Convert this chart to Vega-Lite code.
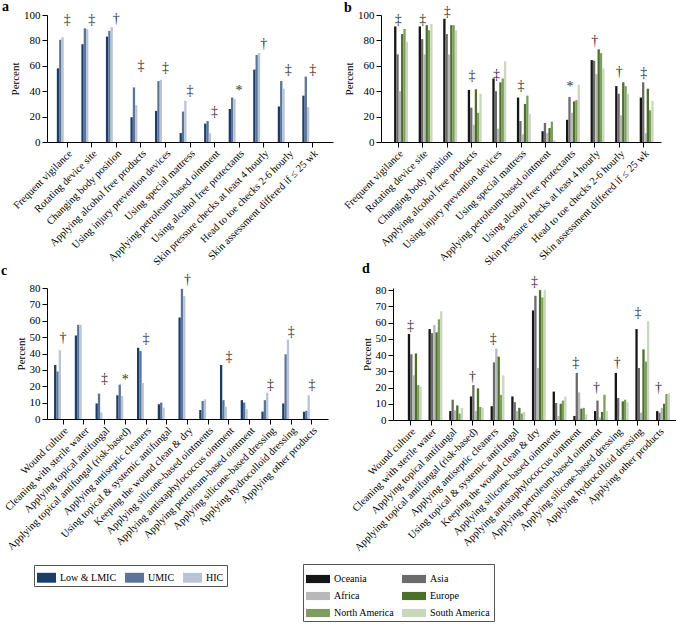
{
"$schema":"https://vega.github.io/schema/vega-lite/v6.json",
"padding":{"left":1,"top":0,"right":0,"bottom":0},
"config":{
 "font":"Liberation Serif, DejaVu Serif, serif",
 "view":{"stroke":null},
 "axis":{"labelFont":"Liberation Serif, DejaVu Serif, serif","titleFont":"Liberation Serif, DejaVu Serif, serif","labelColor":"#000","titleColor":"#000","domainColor":"#000","tickColor":"#000","grid":false,"titleFontWeight":"normal","tickSize":5,"labelFontSize":11,"titleFontSize":11,"labelOverlap":false},
 "axisX":{"labelFontSize":10.5,"labelAngle":-45,"title":null,"labelLimit":300,"labelOverlap":false,"labelPadding":1},
 "axisY":{"labelPadding":2,"titlePadding":3,"labelOverlap":false},
 "text":{"font":"Liberation Serif, DejaVu Serif, serif"},
 "title":{"anchor":"start","frame":"group","font":"Liberation Serif, DejaVu Serif, serif","fontSize":14,"fontWeight":"bold","color":"#000"},
 "legend":{"labelFont":"Liberation Serif, DejaVu Serif, serif","labelFontSize":10,"labelColor":"#000","strokeColor":"#555","padding":3,"symbolStrokeWidth":0,"symbolOpacity":1,"labelOffset":4}
},
"datasets":{
"a":[
{"k":"Frequent vigilance","g":"Low & LMIC","v":58},{"k":"Frequent vigilance","g":"UMIC","v":80.5},{"k":"Frequent vigilance","g":"HIC","v":82.5},
{"k":"Rotating device site","g":"Low & LMIC","v":77},{"k":"Rotating device site","g":"UMIC","v":89.5},{"k":"Rotating device site","g":"HIC","v":89},
{"k":"Changing body position","g":"Low & LMIC","v":83},{"k":"Changing body position","g":"UMIC","v":87.5},{"k":"Changing body position","g":"HIC","v":90.5},
{"k":"Applying alcohol free products","g":"Low & LMIC","v":19.5},{"k":"Applying alcohol free products","g":"UMIC","v":43},{"k":"Applying alcohol free products","g":"HIC","v":29},
{"k":"Using injury prevention devices","g":"Low & LMIC","v":24.5},{"k":"Using injury prevention devices","g":"UMIC","v":48},{"k":"Using injury prevention devices","g":"HIC","v":49},
{"k":"Using special mattress","g":"Low & LMIC","v":7},{"k":"Using special mattress","g":"UMIC","v":24},{"k":"Using special mattress","g":"HIC","v":32.5},
{"k":"Applying petroleum-based ointment","g":"Low & LMIC","v":14.5},{"k":"Applying petroleum-based ointment","g":"UMIC","v":16.5},{"k":"Applying petroleum-based ointment","g":"HIC","v":7},
{"k":"Using alcohol free protectants","g":"Low & LMIC","v":26},{"k":"Using alcohol free protectants","g":"UMIC","v":35},{"k":"Using alcohol free protectants","g":"HIC","v":34},
{"k":"Skin pressure checks at least 4 hourly","g":"Low & LMIC","v":57},{"k":"Skin pressure checks at least 4 hourly","g":"UMIC","v":68.5},{"k":"Skin pressure checks at least 4 hourly","g":"HIC","v":70},
{"k":"Head to toe checks 2-6 hourly","g":"Low & LMIC","v":28},{"k":"Head to toe checks 2-6 hourly","g":"UMIC","v":48},{"k":"Head to toe checks 2-6 hourly","g":"HIC","v":42},
{"k":"Skin assessment differed if ≤ 25 wk","g":"Low & LMIC","v":36.5},{"k":"Skin assessment differed if ≤ 25 wk","g":"UMIC","v":51.5},{"k":"Skin assessment differed if ≤ 25 wk","g":"HIC","v":27.5}
],
"sa":[
{"k":"Frequent vigilance","s":"‡","v":96},{"k":"Rotating device site","s":"‡","v":96},{"k":"Changing body position","s":"†","v":96.5},
{"k":"Applying alcohol free products","s":"‡","v":59.5},{"k":"Using injury prevention devices","s":"‡","v":58},{"k":"Using special mattress","s":"‡","v":40},
{"k":"Applying petroleum-based ointment","s":"‡","v":23.6},{"k":"Using alcohol free protectants","s":"*","v":40},{"k":"Skin pressure checks at least 4 hourly","s":"†","v":77},
{"k":"Head to toe checks 2-6 hourly","s":"‡","v":57},{"k":"Skin assessment differed if ≤ 25 wk","s":"‡","v":57}
],
"b":[
{"k":"Frequent vigilance","g":"Oceania","v":91},{"k":"Frequent vigilance","g":"Asia","v":69},{"k":"Frequent vigilance","g":"Africa","v":40},{"k":"Frequent vigilance","g":"Europe","v":85},{"k":"Frequent vigilance","g":"North America","v":89},{"k":"Frequent vigilance","g":"South America","v":79},
{"k":"Rotating device site","g":"Oceania","v":91},{"k":"Rotating device site","g":"Asia","v":81},{"k":"Rotating device site","g":"Africa","v":69},{"k":"Rotating device site","g":"Europe","v":92},{"k":"Rotating device site","g":"North America","v":88},{"k":"Rotating device site","g":"South America","v":93},
{"k":"Changing body position","g":"Oceania","v":97},{"k":"Changing body position","g":"Asia","v":85},{"k":"Changing body position","g":"Africa","v":69},{"k":"Changing body position","g":"Europe","v":92},{"k":"Changing body position","g":"North America","v":92},{"k":"Changing body position","g":"South America","v":88},
{"k":"Applying alcohol free products","g":"Oceania","v":41},{"k":"Applying alcohol free products","g":"Asia","v":27},{"k":"Applying alcohol free products","g":"Africa","v":13.5},{"k":"Applying alcohol free products","g":"Europe","v":41.5},{"k":"Applying alcohol free products","g":"North America","v":23},{"k":"Applying alcohol free products","g":"South America","v":38},
{"k":"Using injury prevention devices","g":"Oceania","v":50},{"k":"Using injury prevention devices","g":"Asia","v":40},{"k":"Using injury prevention devices","g":"Africa","v":10.5},{"k":"Using injury prevention devices","g":"Europe","v":47},{"k":"Using injury prevention devices","g":"North America","v":50},{"k":"Using injury prevention devices","g":"South America","v":63.5},
{"k":"Using special mattress","g":"Oceania","v":35},{"k":"Using special mattress","g":"Asia","v":16.5},{"k":"Using special mattress","g":"Africa","v":6},{"k":"Using special mattress","g":"Europe","v":30},{"k":"Using special mattress","g":"North America","v":36.5},{"k":"Using special mattress","g":"South America","v":22},
{"k":"Applying petroleum-based ointment","g":"Oceania","v":8.5},{"k":"Applying petroleum-based ointment","g":"Asia","v":15},{"k":"Applying petroleum-based ointment","g":"Africa","v":7},{"k":"Applying petroleum-based ointment","g":"Europe","v":11},{"k":"Applying petroleum-based ointment","g":"North America","v":16},{"k":"Applying petroleum-based ointment","g":"South America","v":1.5},
{"k":"Using alcohol free protectants","g":"Oceania","v":17.5},{"k":"Using alcohol free protectants","g":"Asia","v":35.5},{"k":"Using alcohol free protectants","g":"Africa","v":23},{"k":"Using alcohol free protectants","g":"Europe","v":32},{"k":"Using alcohol free protectants","g":"North America","v":33},{"k":"Using alcohol free protectants","g":"South America","v":45},
{"k":"Skin pressure checks at least 4 hourly","g":"Oceania","v":64.5},{"k":"Skin pressure checks at least 4 hourly","g":"Asia","v":64},{"k":"Skin pressure checks at least 4 hourly","g":"Africa","v":53.5},{"k":"Skin pressure checks at least 4 hourly","g":"Europe","v":73},{"k":"Skin pressure checks at least 4 hourly","g":"North America","v":70},{"k":"Skin pressure checks at least 4 hourly","g":"South America","v":58},
{"k":"Head to toe checks 2-6 hourly","g":"Oceania","v":44},{"k":"Head to toe checks 2-6 hourly","g":"Asia","v":38},{"k":"Head to toe checks 2-6 hourly","g":"Africa","v":21},{"k":"Head to toe checks 2-6 hourly","g":"Europe","v":47},{"k":"Head to toe checks 2-6 hourly","g":"North America","v":44},{"k":"Head to toe checks 2-6 hourly","g":"South America","v":38},
{"k":"Skin assessment differed if ≤ 25 wk","g":"Oceania","v":35},{"k":"Skin assessment differed if ≤ 25 wk","g":"Asia","v":47},{"k":"Skin assessment differed if ≤ 25 wk","g":"Africa","v":7},{"k":"Skin assessment differed if ≤ 25 wk","g":"Europe","v":42},{"k":"Skin assessment differed if ≤ 25 wk","g":"North America","v":25},{"k":"Skin assessment differed if ≤ 25 wk","g":"South America","v":32.5}
],
"sb":[
{"k":"Frequent vigilance","s":"‡","v":96},{"k":"Rotating device site","s":"‡","v":96},{"k":"Changing body position","s":"‡","v":102},
{"k":"Applying alcohol free products","s":"‡","v":52},{"k":"Using injury prevention devices","s":"‡","v":52.5},{"k":"Using special mattress","s":"‡","v":44},
{"k":"Using alcohol free protectants","s":"*","v":43},{"k":"Skin pressure checks at least 4 hourly","s":"†","v":79.5},
{"k":"Head to toe checks 2-6 hourly","s":"†","v":55},{"k":"Skin assessment differed if ≤ 25 wk","s":"‡","v":54}
],
"c":[
{"k":"Wound culture","g":"Low & LMIC","v":33},{"k":"Wound culture","g":"UMIC","v":29},{"k":"Wound culture","g":"HIC","v":42},
{"k":"Cleaning with sterile water","g":"Low & LMIC","v":51},{"k":"Cleaning with sterile water","g":"UMIC","v":57.5},{"k":"Cleaning with sterile water","g":"HIC","v":57.5},
{"k":"Applying topical antifungal","g":"Low & LMIC","v":9.5},{"k":"Applying topical antifungal","g":"UMIC","v":15.5},{"k":"Applying topical antifungal","g":"HIC","v":4},
{"k":"Applying topical antifungal (risk-based)","g":"Low & LMIC","v":14.5},{"k":"Applying topical antifungal (risk-based)","g":"UMIC","v":21},{"k":"Applying topical antifungal (risk-based)","g":"HIC","v":14},
{"k":"Applying antiseptic cleaners","g":"Low & LMIC","v":43.5},{"k":"Applying antiseptic cleaners","g":"UMIC","v":41.5},{"k":"Applying antiseptic cleaners","g":"HIC","v":22},
{"k":"Using topical & systemic antifungal","g":"Low & LMIC","v":9},{"k":"Using topical & systemic antifungal","g":"UMIC","v":10},{"k":"Using topical & systemic antifungal","g":"HIC","v":7},
{"k":"Keeping the wound clean & dry","g":"Low & LMIC","v":62},{"k":"Keeping the wound clean & dry","g":"UMIC","v":79.5},{"k":"Keeping the wound clean & dry","g":"HIC","v":75},
{"k":"Applying silicone-based ointments","g":"Low & LMIC","v":5.5},{"k":"Applying silicone-based ointments","g":"UMIC","v":11},{"k":"Applying silicone-based ointments","g":"HIC","v":12},
{"k":"Applying antistaphylococcus ointment","g":"Low & LMIC","v":33},{"k":"Applying antistaphylococcus ointment","g":"UMIC","v":11.5},{"k":"Applying antistaphylococcus ointment","g":"HIC","v":7.5},
{"k":"Applying petroleum-based ointment","g":"Low & LMIC","v":11.5},{"k":"Applying petroleum-based ointment","g":"UMIC","v":10},{"k":"Applying petroleum-based ointment","g":"HIC","v":6},
{"k":"Applying silicone-based dressing","g":"Low & LMIC","v":4.5},{"k":"Applying silicone-based dressing","g":"UMIC","v":11.5},{"k":"Applying silicone-based dressing","g":"HIC","v":16},
{"k":"Applying hydrocolloid dressing","g":"Low & LMIC","v":9.5},{"k":"Applying hydrocolloid dressing","g":"UMIC","v":39.5},{"k":"Applying hydrocolloid dressing","g":"HIC","v":48.5},
{"k":"Applying other products","g":"Low & LMIC","v":4.5},{"k":"Applying other products","g":"UMIC","v":5},{"k":"Applying other products","g":"HIC","v":14.5}
],
"sc":[
{"k":"Wound culture","s":"†","v":49.6},{"k":"Applying topical antifungal","s":"‡","v":24.3},{"k":"Applying topical antifungal (risk-based)","s":"*","v":24},
{"k":"Applying antiseptic cleaners","s":"‡","v":49},{"k":"Keeping the wound clean & dry","s":"†","v":84.6},{"k":"Applying antistaphylococcus ointment","s":"‡","v":38},
{"k":"Applying silicone-based dressing","s":"‡","v":21},{"k":"Applying hydrocolloid dressing","s":"‡","v":53},{"k":"Applying other products","s":"‡","v":21}
],
"d":[
{"k":"Wound culture","g":"Oceania","v":53},{"k":"Wound culture","g":"Asia","v":40.5},{"k":"Wound culture","g":"Africa","v":27.5},{"k":"Wound culture","g":"Europe","v":41},{"k":"Wound culture","g":"North America","v":21.5},{"k":"Wound culture","g":"South America","v":20.5},
{"k":"Cleaning with sterile water","g":"Oceania","v":56},{"k":"Cleaning with sterile water","g":"Asia","v":53.5},{"k":"Cleaning with sterile water","g":"Africa","v":58.5},{"k":"Cleaning with sterile water","g":"Europe","v":54},{"k":"Cleaning with sterile water","g":"North America","v":62},{"k":"Cleaning with sterile water","g":"South America","v":67},
{"k":"Applying topical antifungal","g":"Oceania","v":5.5},{"k":"Applying topical antifungal","g":"Asia","v":12.5},{"k":"Applying topical antifungal","g":"Africa","v":6},{"k":"Applying topical antifungal","g":"Europe","v":9},{"k":"Applying topical antifungal","g":"North America","v":4},{"k":"Applying topical antifungal","g":"South America","v":7.5},
{"k":"Applying topical antifungal (risk-based)","g":"Oceania","v":14.5},{"k":"Applying topical antifungal (risk-based)","g":"Asia","v":21.5},{"k":"Applying topical antifungal (risk-based)","g":"Africa","v":5.5},{"k":"Applying topical antifungal (risk-based)","g":"Europe","v":19.5},{"k":"Applying topical antifungal (risk-based)","g":"North America","v":8},{"k":"Applying topical antifungal (risk-based)","g":"South America","v":7.5},
{"k":"Applying antiseptic cleaners","g":"Oceania","v":8.5},{"k":"Applying antiseptic cleaners","g":"Asia","v":35.5},{"k":"Applying antiseptic cleaners","g":"Africa","v":44},{"k":"Applying antiseptic cleaners","g":"Europe","v":39},{"k":"Applying antiseptic cleaners","g":"North America","v":15.5},{"k":"Applying antiseptic cleaners","g":"South America","v":27.5},
{"k":"Using topical & systemic antifungal","g":"Oceania","v":14.5},{"k":"Using topical & systemic antifungal","g":"Asia","v":11},{"k":"Using topical & systemic antifungal","g":"Africa","v":5.5},{"k":"Using topical & systemic antifungal","g":"Europe","v":7.5},{"k":"Using topical & systemic antifungal","g":"North America","v":4},{"k":"Using topical & systemic antifungal","g":"South America","v":5},
{"k":"Keeping the wound clean & dry","g":"Oceania","v":67.5},{"k":"Keeping the wound clean & dry","g":"Asia","v":76.5},{"k":"Keeping the wound clean & dry","g":"Africa","v":32},{"k":"Keeping the wound clean & dry","g":"Europe","v":80},{"k":"Keeping the wound clean & dry","g":"North America","v":75.5},{"k":"Keeping the wound clean & dry","g":"South America","v":80},
{"k":"Applying silicone-based ointments","g":"Oceania","v":17.5},{"k":"Applying silicone-based ointments","g":"Asia","v":10.5},{"k":"Applying silicone-based ointments","g":"Africa","v":2.5},{"k":"Applying silicone-based ointments","g":"Europe","v":10},{"k":"Applying silicone-based ointments","g":"North America","v":12},{"k":"Applying silicone-based ointments","g":"South America","v":14.5},
{"k":"Applying antistaphylococcus ointment","g":"Oceania","v":2.5},{"k":"Applying antistaphylococcus ointment","g":"Asia","v":29},{"k":"Applying antistaphylococcus ointment","g":"Africa","v":17},{"k":"Applying antistaphylococcus ointment","g":"Europe","v":7},{"k":"Applying antistaphylococcus ointment","g":"North America","v":7.5},{"k":"Applying antistaphylococcus ointment","g":"South America","v":3.5},
{"k":"Applying petroleum-based ointment","g":"Oceania","v":5.5},{"k":"Applying petroleum-based ointment","g":"Asia","v":12},{"k":"Applying petroleum-based ointment","g":"Africa","v":1.5},{"k":"Applying petroleum-based ointment","g":"Europe","v":5},{"k":"Applying petroleum-based ointment","g":"North America","v":15.5},{"k":"Applying petroleum-based ointment","g":"South America","v":5.5},
{"k":"Applying silicone-based dressing","g":"Oceania","v":29},{"k":"Applying silicone-based dressing","g":"Asia","v":13.5},{"k":"Applying silicone-based dressing","g":"Africa","v":0},{"k":"Applying silicone-based dressing","g":"Europe","v":11.5},{"k":"Applying silicone-based dressing","g":"North America","v":12.5},{"k":"Applying silicone-based dressing","g":"South America","v":11},
{"k":"Applying hydrocolloid dressing","g":"Oceania","v":56},{"k":"Applying hydrocolloid dressing","g":"Asia","v":32},{"k":"Applying hydrocolloid dressing","g":"Africa","v":4.5},{"k":"Applying hydrocolloid dressing","g":"Europe","v":43.5},{"k":"Applying hydrocolloid dressing","g":"North America","v":36},{"k":"Applying hydrocolloid dressing","g":"South America","v":61},
{"k":"Applying other products","g":"Oceania","v":5.5},{"k":"Applying other products","g":"Asia","v":4.5},{"k":"Applying other products","g":"Africa","v":7.5},{"k":"Applying other products","g":"Europe","v":10},{"k":"Applying other products","g":"North America","v":16},{"k":"Applying other products","g":"South America","v":16.5}
],
"sd":[
{"k":"Wound culture","s":"‡","v":58},{"k":"Applying topical antifungal (risk-based)","s":"†","v":26.5},{"k":"Applying antiseptic cleaners","s":"‡","v":50},
{"k":"Keeping the wound clean & dry","s":"‡","v":85},{"k":"Applying antistaphylococcus ointment","s":"‡","v":34.8},{"k":"Applying petroleum-based ointment","s":"†","v":19.8},
{"k":"Applying silicone-based dressing","s":"†","v":34.8},{"k":"Applying hydrocolloid dressing","s":"‡","v":65.8},{"k":"Applying other products","s":"†","v":19.8}
]
},
"resolve":{"scale":{"color":"independent"},"legend":{"color":"independent"}},
"spacing":-7,
"vconcat":[
 {"spacing":9,
  "resolve":{"scale":{"color":"independent"},"legend":{"color":"independent"}},
  "hconcat":[
  {"width":286,"height":127,
   "title":{"text":"a","dx":-45,"offset":-5},
   "encoding":{
     "x":{"field":"k","type":"nominal","scale":{"domain":["Frequent vigilance","Rotating device site","Changing body position","Applying alcohol free products","Using injury prevention devices","Using special mattress","Applying petroleum-based ointment","Using alcohol free protectants","Skin pressure checks at least 4 hourly","Head to toe checks 2-6 hourly","Skin assessment differed if ≤ 25 wk"],"paddingInner":0.15,"paddingOuter":0.4},"axis":{"labelOverlap":false}},
     "y":{"field":"v","type":"quantitative","scale":{"domain":[0,100],"nice":false},"axis":{"title":"Percent","values":[0,20,40,60,80,100],"labelOverlap":false}}
   },
   "layer":[
    {"data":{"name":"a"},"mark":{"type":"bar"},
     "encoding":{
      "xOffset":{"field":"g","type":"nominal","scale":{"domain":["Low & LMIC","UMIC","HIC"],"paddingInner":0,"paddingOuter":0}},
      "color":{"field":"g","type":"nominal","scale":{"domain":["Low & LMIC","UMIC","HIC"],"range":["#1b3d69","#5a7597","#b9c5d6"]},"legend":null}
     }},
    {"data":{"name":"sa"},"mark":{"type":"text","fontSize":14,"baseline":"middle","color":"#333"},
     "encoding":{"text":{"field":"s"}}}
   ]},
  {"width":280,"height":127,
   "title":{"text":"b","dx":-37,"offset":-10},
   "encoding":{
     "x":{"field":"k","type":"nominal","scale":{"domain":["Frequent vigilance","Rotating device site","Changing body position","Applying alcohol free products","Using injury prevention devices","Using special mattress","Applying petroleum-based ointment","Using alcohol free protectants","Skin pressure checks at least 4 hourly","Head to toe checks 2-6 hourly","Skin assessment differed if ≤ 25 wk"],"paddingInner":0.1,"paddingOuter":0.25},"axis":{"labelOverlap":false}},
     "y":{"field":"v","type":"quantitative","scale":{"domain":[0,100],"nice":false},"axis":{"title":"Percent","values":[0,20,40,60,80,100],"labelOverlap":false}}
   },
   "layer":[
    {"data":{"name":"b"},"mark":{"type":"bar"},
     "encoding":{
      "xOffset":{"field":"g","type":"nominal","scale":{"domain":["Oceania","Asia","Africa","Europe","North America","South America"],"paddingInner":0,"paddingOuter":0}},
      "color":{"field":"g","type":"nominal","scale":{"domain":["Oceania","Asia","Africa","Europe","North America","South America"],"range":["#161616","#6b6b6b","#b8b8b8","#4b7129","#7d9d61","#cad7bc"]},"legend":null}
     }},
    {"data":{"name":"sb"},"mark":{"type":"text","fontSize":14,"baseline":"middle","color":"#333"},
     "encoding":{"text":{"field":"s"}}}
   ]}
 ]},
 {"spacing":-26,
  "resolve":{"scale":{"color":"independent"},"legend":{"color":"independent"}},
  "hconcat":[
  {"width":281,"height":131,
   "title":{"text":"c","dx":-46,"offset":-5},
   "encoding":{
     "x":{"field":"k","type":"nominal","scale":{"domain":["Wound culture","Cleaning with sterile water","Applying topical antifungal","Applying topical antifungal (risk-based)","Applying antiseptic cleaners","Using topical & systemic antifungal","Keeping the wound clean & dry","Applying silicone-based ointments","Applying antistaphylococcus ointment","Applying petroleum-based ointment","Applying silicone-based dressing","Applying hydrocolloid dressing","Applying other products"],"paddingInner":0.13,"paddingOuter":0.34},"axis":{"labelOverlap":false}},
     "y":{"field":"v","type":"quantitative","scale":{"domain":[0,80],"nice":false},"axis":{"title":"Percent","values":[0,10,20,30,40,50,60,70,80],"labelOverlap":false}}
   },
   "layer":[
    {"data":{"name":"c"},"mark":{"type":"bar"},
     "encoding":{
      "xOffset":{"field":"g","type":"nominal","scale":{"domain":["Low & LMIC","UMIC","HIC"],"paddingInner":0,"paddingOuter":0}},
      "color":{"field":"g","type":"nominal","scale":{"domain":["Low & LMIC","UMIC","HIC"],"range":["#1b3d69","#5a7597","#b9c5d6"]},
        "legend":{"orient":"none","legendX":-13,"legendY":277,"direction":"horizontal","columns":3,"title":null,"symbolType":"M-1,-0.52H1V0.52H-1Z","symbolSize":361,"columnPadding":8}}
     }},
    {"data":{"name":"sc"},"mark":{"type":"text","fontSize":14,"baseline":"middle","color":"#333"},
     "encoding":{"text":{"field":"s"}}}
   ]},
  {"width":283,"height":132,
   "title":{"text":"d","dx":-31,"offset":-1},
   "encoding":{
     "x":{"field":"k","type":"nominal","scale":{"domain":["Wound culture","Cleaning with sterile water","Applying topical antifungal","Applying topical antifungal (risk-based)","Applying antiseptic cleaners","Using topical & systemic antifungal","Keeping the wound clean & dry","Applying silicone-based ointments","Applying antistaphylococcus ointment","Applying petroleum-based ointment","Applying silicone-based dressing","Applying hydrocolloid dressing","Applying other products"],"paddingInner":0.08,"paddingOuter":0.38},"axis":{"labelOverlap":false}},
     "y":{"field":"v","type":"quantitative","scale":{"domain":[0,81.3],"nice":false},"axis":{"title":"Percent","values":[0,10,20,30,40,50,60,70,80],"labelOverlap":false}}
   },
   "layer":[
    {"data":{"name":"d"},"mark":{"type":"bar"},
     "encoding":{
      "xOffset":{"field":"g","type":"nominal","scale":{"domain":["Oceania","Asia","Africa","Europe","North America","South America"],"paddingInner":0,"paddingOuter":0}},
      "color":{"field":"g","type":"nominal","scale":{"domain":["Oceania","Asia","Africa","Europe","North America","South America"],"range":["#161616","#6b6b6b","#b8b8b8","#4b7129","#7d9d61","#cad7bc"]},
        "legend":{"orient":"none","legendX":-90,"legendY":276,"direction":"horizontal","columns":2,"title":null,"symbolType":"M-1,-0.34H1V0.34H-1Z","symbolSize":576,"columnPadding":7,"rowPadding":0,"gridAlign":"each"}}
     }},
    {"data":{"name":"sd"},"mark":{"type":"text","fontSize":14,"baseline":"middle","color":"#333"},
     "encoding":{"text":{"field":"s"}}}
   ]}
 ]}
]
}
